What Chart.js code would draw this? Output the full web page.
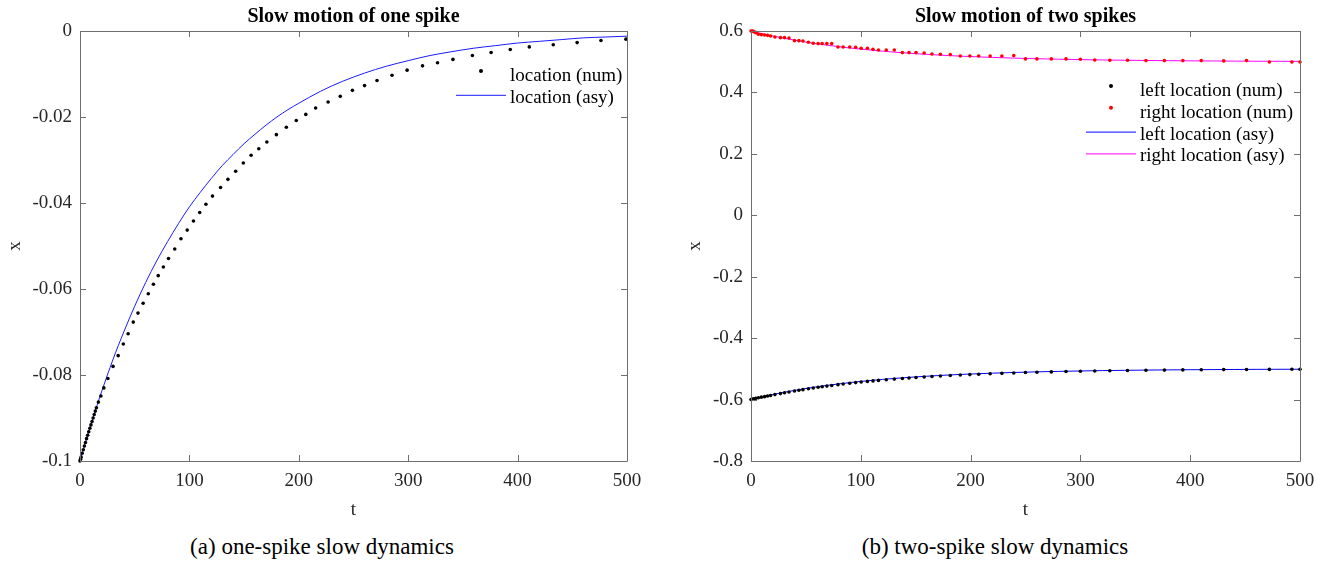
<!DOCTYPE html>
<html>
<head>
<meta charset="utf-8">
<script src="https://cdn.jsdelivr.net/npm/chart.js@4.4.0/dist/chart.umd.min.js"></script>
<style>
  html, body { margin: 0; padding: 0; background: #fff; }
  #wrap { position: relative; width: 1335px; height: 571px; font-family: 'Liberation Serif', serif; }
  #left { position: absolute; left: 0; top: 0; }
  #right { position: absolute; left: 665px; top: 0; }
  .cap { position: absolute; top: 535px; font-size: 23px; line-height: 23px; color: #000; white-space: nowrap; transform: translateX(-50%); }
</style>
</head>
<body>
<div id="wrap">
  <canvas id="left" width="665" height="530"></canvas>
  <canvas id="right" width="670" height="530"></canvas>
  <div class="cap" style="left:322px">(a) one-spike slow dynamics</div>
  <div class="cap" style="left:995px">(b) two-spike slow dynamics</div>
</div>
<script>
// ---- one spike: numerical location (dots)
const oneNumT = [0, 0.5, 1, 2, 3, 4, 5, 6, 7, 8, 9, 10, 11, 12, 13, 14, 15,
  16.8, 19.1, 21.8, 25.5, 30.2, 34.9, 39.6, 44.0, 48.7, 53.0, 57.7, 62.4, 67.1, 71.5,
  76.2, 80.9, 86.6, 92.3, 98.0, 103.7, 109.4, 115.1, 121.1, 128.5, 135.2, 142.3, 149.3,
  156.4, 163.4, 170.8, 179.5, 188.6, 197.7, 206.4, 215.4, 226.8, 237.9, 249.0, 260.1,
  271.5, 285.2, 299.0, 313.1, 326.8, 340.9, 358.7, 375.8, 393.3, 410.7, 432.6, 454.4,
  476.2, 499.0];
const oneNumX = [-0.1, -0.0996, -0.0991, -0.0982, -0.0974, -0.0965, -0.0957, -0.0948, -0.0940,
  -0.0932, -0.0924, -0.0916, -0.0908, -0.0900, -0.0892, -0.0884, -0.0876,
  -0.0863, -0.0849, -0.0830, -0.0808, -0.0780, -0.0755, -0.0728, -0.0704, -0.0677, -0.0656,
  -0.0633, -0.0611, -0.0589, -0.0569, -0.0549, -0.0529, -0.0507, -0.0483, -0.0463, -0.0442,
  -0.0422, -0.0403, -0.0384, -0.0364, -0.0345, -0.0326, -0.0307, -0.0289, -0.0274, -0.0258,
  -0.0241, -0.0224, -0.0208, -0.0194, -0.0179, -0.0165, -0.0152, -0.0138, -0.0127, -0.0115,
  -0.0103, -0.0091, -0.0081, -0.0074, -0.0066, -0.0057, -0.0050, -0.0043, -0.0037, -0.0032,
  -0.0027, -0.0022, -0.0019];

// ---- asymptotic curves (shared time grid)
const asyT = [0, 5, 10, 15, 20, 30, 40, 50, 60, 70, 80, 90, 100, 110, 120, 130, 140, 150, 160,
  170, 180, 190, 200, 220, 240, 260, 280, 300, 320, 340, 360, 380, 400, 420, 440, 460, 480, 500];
const oneAsyX = [-0.1, -0.0956, -0.0915, -0.0875, -0.0837, -0.0765, -0.0700, -0.0640, -0.0585,
  -0.0535, -0.0490, -0.0448, -0.0409, -0.0375, -0.0343, -0.0313, -0.0287, -0.0262, -0.0240,
  -0.0219, -0.0200, -0.0183, -0.0168, -0.0140, -0.0117, -0.0098, -0.0082, -0.0069, -0.0057,
  -0.0048, -0.0040, -0.0034, -0.0028, -0.0024, -0.0020, -0.0016, -0.0014, -0.0012];
const rightAsyX = [0.6, 0.5956, 0.5915, 0.5875, 0.5837, 0.5765, 0.5700, 0.5640, 0.5585, 0.5535,
  0.5490, 0.5448, 0.5409, 0.5375, 0.5343, 0.5313, 0.5287, 0.5262, 0.5240, 0.5219, 0.5200,
  0.5183, 0.5168, 0.5140, 0.5117, 0.5098, 0.5082, 0.5069, 0.5057, 0.5048, 0.5040, 0.5034,
  0.5028, 0.5024, 0.5020, 0.5016, 0.5014, 0.5012];
const leftAsyX = [-0.6, -0.5956, -0.5915, -0.5875, -0.5837, -0.5765, -0.5700, -0.5640, -0.5585,
  -0.5535, -0.5490, -0.5448, -0.5409, -0.5375, -0.5343, -0.5313, -0.5287, -0.5262, -0.5240,
  -0.5219, -0.5200, -0.5183, -0.5168, -0.5140, -0.5117, -0.5098, -0.5082, -0.5069, -0.5057,
  -0.5048, -0.5040, -0.5034, -0.5028, -0.5024, -0.5020, -0.5016, -0.5014, -0.5012];

// ---- two spikes: numerical locations (dots)
const twoNumT = [0, 1, 2, 3, 4.4, 6.7, 9.4, 12.4, 15.1, 17.8, 21.8, 26.8, 30.5, 34.6, 39.6,
  43.6, 47.3, 52.3, 56.7, 61.1, 64.8, 69.1, 73.5, 79.2, 83.9, 89.9, 95.3, 100.3, 106.0, 111.1,
  116.1, 123.2, 130.5, 137.9, 143.9, 150.3, 157.7, 164.8, 172.5, 181.5, 190.6, 199.3, 207.4,
  217.8, 228.5, 239.3, 250.0, 260.4, 273.5, 286.9, 300.0, 313.1, 326.8, 342.9, 359.7, 376.5,
  393.3, 410.1, 430.5, 451.3, 472.1, 492.6, 500];
const leftNumX = [-0.600, -0.5991, -0.5982, -0.5974, -0.5961, -0.5942, -0.5921, -0.5905, -0.5885,
  -0.5865, -0.5838, -0.5805, -0.5780, -0.5754, -0.5722, -0.5698, -0.5677, -0.5648, -0.5624,
  -0.5601, -0.5582, -0.5561, -0.5540, -0.5514, -0.5494, -0.5469, -0.5448, -0.5429, -0.5409,
  -0.5392, -0.5376, -0.5354, -0.5333, -0.5313, -0.5297, -0.5281, -0.5265, -0.5250, -0.5234,
  -0.5217, -0.5200, -0.5187, -0.5174, -0.5160, -0.5146, -0.5133, -0.5121, -0.5111, -0.5099,
  -0.5088, -0.5079, -0.5070, -0.5062, -0.5054, -0.5046, -0.5040, -0.5034, -0.5029, -0.5024,
  -0.5020, -0.5017, -0.5013, -0.5012];
const rightNumX = [0.600, 0.600, 0.599, 0.597, 0.5946, 0.5892, 0.5881, 0.5870, 0.5859, 0.5838,
  0.5805, 0.5783, 0.5783, 0.5773, 0.5686, 0.5686, 0.5675, 0.5632, 0.5599, 0.5589, 0.5589,
  0.5589, 0.5589, 0.5480, 0.5480, 0.5480, 0.5469, 0.5437, 0.5437, 0.5405, 0.5383, 0.5383,
  0.5383, 0.5296, 0.5296, 0.5296, 0.5285, 0.5253, 0.5242, 0.5231, 0.5188, 0.5188, 0.5188,
  0.5188, 0.5188, 0.5199, 0.5091, 0.5091, 0.5091, 0.5091, 0.5080, 0.5058, 0.5047, 0.5047,
  0.5036, 0.5036, 0.5036, 0.5036, 0.5026, 0.5036, 0.4993, 0.4993, 0.4993];

// ---- ticks
const tTicks = [0, 100, 200, 300, 400, 500];
const tLabels = ['0', '100', '200', '300', '400', '500'];
const oneYTicks = [-0.1, -0.08, -0.06, -0.04, -0.02, 0];
const oneYLabels = ['-0.1', '-0.08', '-0.06', '-0.04', '-0.02', '0'];
const twoYTicks = [-0.8, -0.6, -0.4, -0.2, 0, 0.2, 0.4, 0.6];
const twoYLabels = ['-0.8', '-0.6', '-0.4', '-0.2', '0', '0.2', '0.4', '0.6'];

Chart.defaults.font.family = "'Liberation Serif', 'Times New Roman', serif";
Chart.defaults.font.size = 19;
Chart.defaults.color = '#262626';

const zip = (xs, ys) => xs.map((x, i) => ({ x: x, y: ys[i] }));

// box, inward ticks, title and in-plot legend drawn the MATLAB way
const axesFrame = {
  id: 'axesFrame',
  afterDatasetsDraw(chart, args, opts) {
    const { ctx, chartArea: a, scales } = chart;
    const x = scales.x, y = scales.y;
    ctx.save();
    ctx.strokeStyle = '#6e6e6e';
    ctx.lineWidth = 1;
    ctx.beginPath();
    ctx.rect(a.left + 0.5, a.top + 0.5, a.right - a.left, a.bottom - a.top);
    x.ticks.forEach(t => {
      const px = Math.round(x.getPixelForValue(t.value)) + 0.5;
      ctx.moveTo(px, a.bottom); ctx.lineTo(px, a.bottom - 6);
      ctx.moveTo(px, a.top); ctx.lineTo(px, a.top + 6);
    });
    y.ticks.forEach(t => {
      const py = Math.round(y.getPixelForValue(t.value)) + 0.5;
      ctx.moveTo(a.left, py); ctx.lineTo(a.left + 6, py);
      ctx.moveTo(a.right, py); ctx.lineTo(a.right - 6, py);
    });
    ctx.stroke();

    // title
    ctx.fillStyle = '#000';
    ctx.font = "bold 20px 'Liberation Serif', serif";
    ctx.textAlign = 'center';
    ctx.textBaseline = 'alphabetic';
    ctx.fillText(opts.title, (a.left + a.right) / 2, 22);

    // legend
    ctx.font = "19px 'Liberation Serif', serif";
    ctx.textAlign = 'left';
    const tx = a.right - opts.legendRight;
    chart.data.datasets.forEach((ds, i) => {
      const base = a.top + opts.legendTop + i * 21.8;
      const sy = base - 8;
      if (ds.showLine) {
        ctx.strokeStyle = ds.borderColor;
        ctx.lineWidth = 1;
        ctx.beginPath();
        ctx.moveTo(tx - 54, sy + 0.5); ctx.lineTo(tx - 4, sy + 0.5);
        ctx.stroke();
      } else {
        ctx.fillStyle = ds.backgroundColor;
        ctx.beginPath();
        ctx.arc(tx - 29, sy - 2, 2, 0, Math.PI * 2);
        ctx.fill();
      }
      ctx.fillStyle = '#000';
      ctx.fillText(ds.label, tx, base);
    });
    ctx.restore();
  }
};

function makeScales(yTicks, yLabels, yMin, yMax, yWidth, yTitlePad) {
  return {
    x: {
      type: 'linear', min: 0, max: 500,
      grid: { display: false, drawTicks: false, tickLength: 0 },
      border: { display: false },
      afterBuildTicks: s => { s.ticks = tTicks.map(v => ({ value: v })); },
      ticks: { padding: 9, maxRotation: 0, callback: (v, i) => tLabels[i] },
      title: { display: true, text: 't', padding: { top: 0, bottom: 9 } },
      afterFit: s => { s.height = 69; s.paddingLeft = 0; s.paddingRight = 0; }
    },
    y: {
      type: 'linear', min: yMin, max: yMax,
      grid: { display: false, drawTicks: false, tickLength: 0 },
      border: { display: false },
      afterBuildTicks: s => { s.ticks = yTicks.map(v => ({ value: v })); },
      ticks: { padding: 8, callback: (v, i) => yLabels[i] },
      title: { display: true, text: 'x', padding: { top: yTitlePad, bottom: 0 } },
      afterFit: s => { s.width = yWidth; s.paddingTop = 0; s.paddingBottom = 0; }
    }
  };
}

new Chart(document.getElementById('left').getContext('2d'), {
  type: 'scatter',
  data: {
    datasets: [
      {
        label: 'location (num)',
        data: zip(oneNumT, oneNumX),
        backgroundColor: '#000000',
        borderWidth: 0,
        pointRadius: 1.8,
        clip: false
      },
      {
        label: 'location (asy)',
        data: zip(asyT, oneAsyX),
        showLine: true,
        borderColor: '#1a1aff',
        borderWidth: 1,
        pointRadius: 0,
        cubicInterpolationMode: 'monotone',
        clip: false
      }
    ]
  },
  options: {
    responsive: false,
    animation: false,
    layout: { padding: { top: 31, right: 38, bottom: 0, left: 0 } },
    scales: makeScales(oneYTicks, oneYLabels, -0.1, 0, 80, 4),
    plugins: {
      legend: { display: false },
      tooltip: { enabled: false },
      axesFrame: { title: 'Slow motion of one spike', legendRight: 117, legendTop: 50 }
    }
  },
  plugins: [axesFrame]
});

new Chart(document.getElementById('right').getContext('2d'), {
  type: 'scatter',
  data: {
    datasets: [
      {
        label: 'left location (num)',
        data: zip(twoNumT, leftNumX),
        backgroundColor: '#000000',
        borderWidth: 0,
        pointRadius: 1.8,
        clip: false
      },
      {
        label: 'right location (num)',
        data: zip(twoNumT, rightNumX),
        backgroundColor: '#ff0000',
        borderWidth: 0,
        pointRadius: 1.8,
        clip: false
      },
      {
        label: 'left location (asy)',
        data: zip(asyT, leftAsyX),
        showLine: true,
        borderColor: '#0000ff',
        borderWidth: 1,
        pointRadius: 0,
        cubicInterpolationMode: 'monotone',
        clip: false
      },
      {
        label: 'right location (asy)',
        data: zip(asyT, rightAsyX),
        showLine: true,
        borderColor: '#ff00ff',
        borderWidth: 1,
        pointRadius: 0,
        cubicInterpolationMode: 'monotone',
        clip: false
      }
    ]
  },
  options: {
    responsive: false,
    animation: false,
    layout: { padding: { top: 31, right: 35, bottom: 0, left: 0 } },
    scales: makeScales(twoYTicks, twoYLabels, -0.8, 0.6, 86, 19),
    plugins: {
      legend: { display: false },
      tooltip: { enabled: false },
      axesFrame: { title: 'Slow motion of two spikes', legendRight: 160, legendTop: 65 }
    }
  },
  plugins: [axesFrame]
});
</script>
</body>
</html>
